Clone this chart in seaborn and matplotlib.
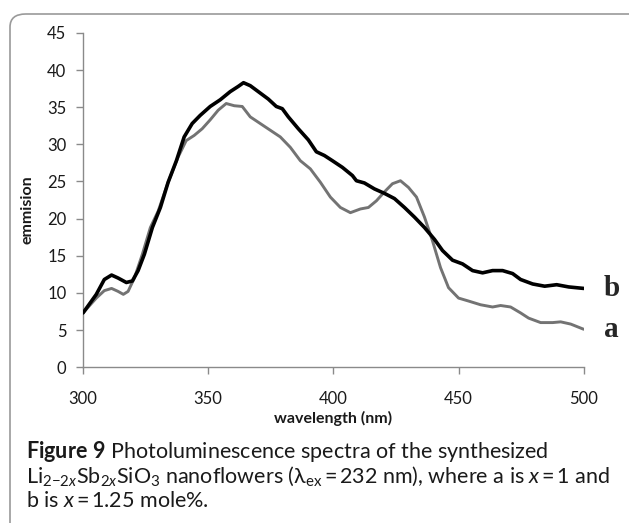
import numpy as np
import pandas as pd
import matplotlib
matplotlib.use("Agg")
import matplotlib.pyplot as plt
from matplotlib.patches import FancyBboxPatch
import seaborn as sns

# ---- data ----
wl_a = [300, 305.3, 308.5, 311.4, 314, 316.1, 318, 320.5, 323.7, 326.9, 330, 334, 338, 341.2,
        344.4, 347.6, 350.8, 354, 357.2, 360.4, 363.6, 366.8, 370.8, 374.8, 378.8, 382.8,
        386.8, 390.8, 394.8, 398.8, 402.8, 406.8, 410.8, 414, 417.2, 420.4, 423.6, 426.8,
        430, 433.2, 436.4, 439.6, 442.8, 446, 450, 454, 458.8, 463.6, 466.8, 470.8, 474.8,
        478, 482.8, 487.6, 490.8, 494.8, 500]
em_a = [7.3, 9.3, 10.3, 10.6, 10.2, 9.8, 10.2, 12.0, 15.2, 18.8, 21.0, 24.9, 28.3, 30.5,
        31.2, 32.1, 33.3, 34.6, 35.5, 35.2, 35.1, 33.7, 32.8, 31.9, 31.0, 29.6,
        27.8, 26.7, 24.9, 22.9, 21.5, 20.8, 21.3, 21.5, 22.4, 23.6, 24.7, 25.1,
        24.2, 22.9, 20.2, 17.0, 13.4, 10.7, 9.3, 8.9, 8.4, 8.1, 8.3, 8.1, 7.3,
        6.6, 6.0, 6.0, 6.1, 5.8, 5.1]

wl_b = [300, 305.3, 308.5, 311.4, 314, 317.3, 319.7, 322, 324.5, 327.7, 330.9, 334, 337.3,
        340.4, 343.6, 346.8, 350.8, 354.8, 358.8, 362, 364.1, 366.8, 370.8, 374, 377.2,
        379.6, 382, 386, 390, 393.2, 396.4, 399.6, 403.6, 407.6, 409.2, 412.4, 416.4,
        420.4, 424.4, 428.4, 432.4, 436.4, 440.4, 443.6, 447.6, 451.6, 455.6, 459.6,
        463.6, 467.6, 471.6, 474.8, 479.6, 484.4, 489.2, 494, 500]
em_b = [7.3, 9.8, 11.8, 12.4, 12.0, 11.4, 11.6, 13.0, 15.2, 18.8, 21.5, 24.9, 27.8,
        31.0, 32.8, 33.9, 35.1, 36.0, 37.1, 37.8, 38.3, 37.9, 36.9, 36.1, 35.1,
        34.8, 33.7, 32.1, 30.6, 29.0, 28.5, 27.8, 26.9, 25.8, 25.1, 24.8, 24.0,
        23.4, 22.7, 21.5, 20.2, 18.8, 17.2, 15.7, 14.4, 13.9, 13.0, 12.7,
        13.0, 13.0, 12.6, 11.8, 11.2, 10.9, 11.1, 10.8, 10.6]

series_names = ["a", "b"]
x_ticks = [300, 350, 400, 450, 500]
y_ticks = [0, 5, 10, 15, 20, 25, 30, 35, 40, 45]

df = pd.concat([
    pd.DataFrame({"wavelength": wl_a, "emission": em_a, "sample": "a"}),
    pd.DataFrame({"wavelength": wl_b, "emission": em_b, "sample": "b"}),
], ignore_index=True)

sns.set_style("white")
plt.rcParams["font.family"] = ["Lato", "DejaVu Sans"]
plt.rcParams["mathtext.fontset"] = "custom"
plt.rcParams["mathtext.rm"] = "Lato"
plt.rcParams["mathtext.it"] = "Lato:italic"
plt.rcParams["mathtext.bf"] = "Lato:bold"

fig = plt.figure(figsize=(6.29, 5.23), dpi=100)
ax = fig.add_axes([0.132, 0.298, 0.796, 0.639])

# rounded frame
frame = FancyBboxPatch((10 / 629, -0.2), 1.2, 1 - 14 / 523 + 0.2,
                       boxstyle="round,pad=0,rounding_size=0.025",
                       transform=fig.transFigure, fill=False,
                       edgecolor="#9a9a9a", linewidth=1.2, zorder=0)
fig.patches.append(frame)

sns.lineplot(data=df, x="wavelength", y="emission", hue="sample",
             hue_order=series_names, palette={"a": "#737373", "b": "#000000"},
             ax=ax, legend=False, estimator=None, sort=False)
lines = ax.get_lines()
lines[0].set_linewidth(2.1)
lines[1].set_linewidth(2.6)
lines[1].set_zorder(3)

ax.set_xlim(300, 500)
ax.set_ylim(0, 45)
ax.set_xticks(x_ticks)
ax.set_yticks(y_ticks)
for s in ["top", "right"]:
    ax.spines[s].set_visible(False)
for s in ["left", "bottom"]:
    ax.spines[s].set_color("#8a8a8a")
    ax.spines[s].set_linewidth(1.0)
ax.tick_params(axis="y", direction="out", length=5, width=1, color="#8a8a8a",
               pad=7, labelsize=12, labelcolor="#1a1a1a", left=True)
ax.tick_params(axis="x", direction="out", length=5, width=1, color="#8a8a8a",
               pad=12, labelsize=12, labelcolor="#1a1a1a", bottom=True)

ax.set_xlabel("wavelength (nm)", fontsize=11.5, fontweight="bold", color="#1a1a1a")
ax.set_ylabel("emmision", fontsize=11.5, fontweight="bold", color="#1a1a1a")
ax.xaxis.set_label_coords(0.5, -0.13)
ax.yaxis.set_label_coords(-0.097, 0.47)

ax.text(1.055, 10.6 / 45, "b", transform=ax.transAxes, ha="center", va="center",
        fontsize=21, fontweight="bold", family="Liberation Serif")
ax.text(1.055, 5.1 / 45, "a", transform=ax.transAxes, ha="center", va="center",
        fontsize=21, fontweight="bold", family="Liberation Serif")

cap = 15.5
ts = "\u2009"
fig.text(26 / 629, 1 - 451 / 523, r"$\mathbf{Figure\ 9}$ Photoluminescence spectra of the synthesized",
         fontsize=cap, va="center", ha="left", color="#1a1a1a")
fig.text(26 / 629, 1 - 476 / 523,
         r"Li$_{2\mathrm{-}2x}$Sb$_{2x}$SiO$_3$ nanoflowers (λ$_{\mathrm{ex}}$" + ts + "=" + ts +
         r"232 nm), where a is $x$" + ts + "=" + ts + "1 and",
         fontsize=cap, va="center", ha="left", color="#1a1a1a")
fig.text(26 / 629, 1 - 501 / 523, r"b is $x$" + ts + "=" + ts + "1.25 mole%.",
         fontsize=cap, va="center", ha="left", color="#1a1a1a")

fig.savefig("out.png", dpi=100)
